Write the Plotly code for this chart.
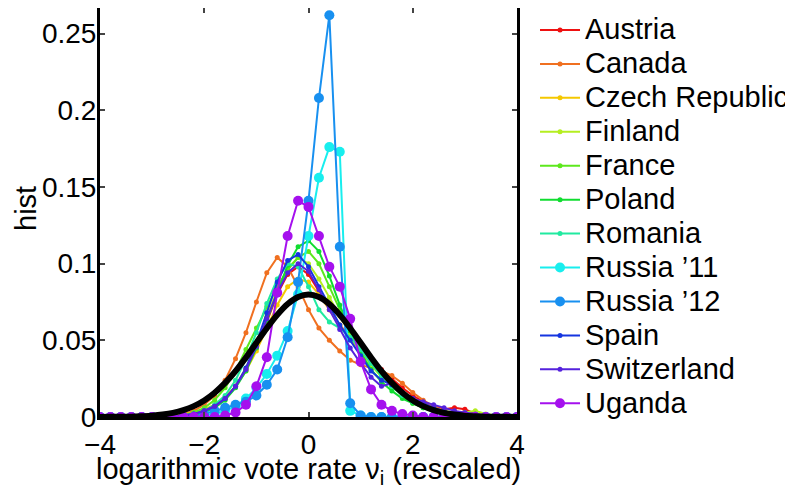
import plotly.graph_objects as go

bins = [round(-4 + 0.2 * i, 1) for i in range(41)]

countries = ["Austria", "Canada", "Czech Republic", "Finland", "France", "Poland",
             "Romania", "Russia \u201911", "Russia \u201912", "Spain", "Switzerland", "Uganda"]

austria = [0,0,0,0,0,0,0,0,0.001,0.002,
           0.004,0.007,0.012,0.020,0.031,0.045,0.062,0.080,0.093,0.098,
           0.093,0.082,0.070,0.060,0.052,0.045,0.038,0.031,0.025,0.019,
           0.014,0.010,0.007,0.005,0.006,0.005,0.002,0.001,0,0,0]
canada = [0,0,0,0,0,0,0,0.001,0.002,0.004,
          0.008,0.014,0.024,0.038,0.055,0.075,0.094,0.104,0.098,0.085,
          0.070,0.058,0.050,0.043,0.037,0.034,0.032,0.030,0.027,0.022,
          0.016,0.011,0.007,0.004,0.002,0.001,0,0,0,0,0]
czech = [0,0,0,0,0,0,0,0.001,0.002,0.003,
         0.005,0.008,0.013,0.020,0.030,0.043,0.058,0.073,0.085,0.090,
         0.088,0.080,0.070,0.060,0.051,0.043,0.035,0.028,0.021,0.015,
         0.010,0.007,0.004,0.003,0.002,0.001,0,0,0,0,0]
finland = [0,0,0,0,0,0,0,0,0.001,0.002,
           0.004,0.007,0.012,0.020,0.032,0.047,0.065,0.083,0.097,0.104,
           0.100,0.090,0.078,0.066,0.054,0.043,0.034,0.026,0.020,0.015,
           0.011,0.008,0.006,0.004,0.003,0.003,0.004,0.002,0.001,0,0]
france = [0,0,0,0,0,0,0,0,0.001,0.003,
          0.006,0.011,0.019,0.030,0.044,0.058,0.072,0.085,0.096,0.104,
          0.108,0.100,0.085,0.070,0.057,0.045,0.035,0.027,0.020,0.014,
          0.009,0.006,0.004,0.002,0.001,0,0,0,0,0,0]
poland = [0,0,0,0,0,0,0,0,0,0.001,
          0.003,0.006,0.011,0.019,0.030,0.045,0.063,0.082,0.099,0.111,
          0.115,0.108,0.092,0.073,0.056,0.042,0.031,0.023,0.017,0.012,
          0.009,0.006,0.004,0.002,0.001,0,0,0,0,0,0]
romania = [0,0,0,0,0,0,0,0,0.001,0.002,
           0.004,0.008,0.014,0.024,0.038,0.055,0.074,0.090,0.100,0.098,
           0.085,0.070,0.062,0.058,0.052,0.044,0.035,0.027,0.020,0.014,
           0.010,0.007,0.004,0.002,0.001,0,0,0,0,0,0]
russia11 = [0,0,0,0,0,0,0,0,0,0,
            0.001,0.002,0.004,0.007,0.012,0.019,0.028,0.040,0.056,0.080,
            0.118,0.156,0.176,0.173,0.004,0.001,0,0,0,0,
            0,0,0,0,0,0,0,0,0,0,0]
russia12 = [0,0,0,0,0,0,0,0,0,0,
            0.002,0.004,0.006,0.008,0.010,0.014,0.021,0.031,0.052,0.088,
            0.141,0.208,0.262,0.111,0.009,0.001,0,0,0,0,
            0,0,0,0,0,0,0,0,0,0,0]
spain = [0,0,0,0,0,0,0,0,0.001,0.002,
         0.004,0.007,0.012,0.020,0.032,0.048,0.068,0.088,0.102,0.106,
         0.098,0.085,0.072,0.060,0.050,0.040,0.030,0.024,0.021,0.016,
         0.012,0.009,0.006,0.004,0.002,0.002,0.001,0,0,0,0]
switzerland = [0,0,0,0,0,0,0,0,0.001,0.002,
               0.004,0.007,0.012,0.020,0.031,0.046,0.064,0.081,0.094,0.100,
               0.095,0.083,0.070,0.057,0.045,0.035,0.026,0.020,0.022,0.016,
               0.012,0.010,0.008,0.006,0.004,0.003,0.002,0.001,0.001,0,0]
uganda = [0,0,0,0,0,0,0,0,0,0,
          0,0,0.001,0.003,0.008,0.020,0.039,0.081,0.118,0.141,
          0.137,0.118,0.098,0.085,0.064,0.036,0.018,0.008,0.004,0.002,
          0.001,0,0,0,0,0,0,0,0,0,0]
gaussian = [0.0,0.0001,0.0001,0.0002,0.0005,0.0009,0.0016,0.0027,0.0045,0.0071,
            0.0108,0.0158,0.0222,0.0299,0.0388,0.0484,0.0579,0.0666,0.0737,0.0782,
            0.0798,0.0782,0.0737,0.0666,0.0579,0.0484,0.0388,0.0299,0.0222,0.0158,
            0.0108,0.0071,0.0045,0.0027,0.0016,0.0009,0.0005,0.0002,0.0001,0.0001,0.0]

series = [austria, canada, czech, finland, france, poland, romania,
          russia11, russia12, spain, switzerland, uganda]
colors = ["#ee1111", "#f07020", "#f5c800", "#b5ee20", "#5de81c", "#10dd30",
          "#20eaa0", "#18eeee", "#1890f0", "#1535e0", "#5522dd", "#a510ee"]
big = [False, False, False, False, False, False, False, True, True, False, False, True]

x_ticks = [-4, -2, 0, 2, 4]
y_ticks = [0, 0.05, 0.1, 0.15, 0.2, 0.25]
y_tick_labels = ["0", "0.05", "0.1", "0.15", "0.2", "0.25"]
x_title = "logarithmic vote rate \u03bd<sub>i</sub> (rescaled)"
y_title = "hist"

TEXT_SIZE = 29
TICK_SIZE = 28

fig = go.Figure()
for name, vals, col, b in zip(countries, series, colors, big):
    fig.add_trace(go.Scatter(
        x=bins, y=vals,
        name='<span style="font-size:%dpx">%s</span>' % (TEXT_SIZE, name),
        mode="lines+markers",
        line=dict(color=col, width=2),
        marker=dict(color=col, size=10 if b else 5),
    ))
fig.add_trace(go.Scatter(x=bins, y=gaussian, mode="lines", showlegend=False,
                         line=dict(color="black", width=6, shape="spline")))

font = "Liberation Sans, Arial, Helvetica, sans-serif"
fig.update_layout(
    width=785, height=489,
    margin=dict(l=92, r=276, t=0, b=80, autoexpand=False),
    paper_bgcolor="white", plot_bgcolor="white",
    font=dict(family=font, size=TEXT_SIZE, color="black"),
    showlegend=True,
    legend=dict(x=1.0432, y=1.0, xanchor="left", yanchor="top",
                yref="container", font=dict(size=23.8), itemwidth=40,
                maxheight=700,
                bgcolor="rgba(0,0,0,0)", borderwidth=0),
    xaxis=dict(range=[-4, 4], tickvals=x_ticks, ticks="inside", ticklen=5,
               tickwidth=2, showline=True, linewidth=3, linecolor="black",
               mirror="ticks", showgrid=False, zeroline=False,
               tickfont=dict(size=TICK_SIZE)),
    yaxis=dict(range=[0, 0.2667], tickvals=y_ticks, ticktext=y_tick_labels,
               ticks="inside", ticklen=5, tickwidth=2, showline=True,
               linewidth=3, linecolor="black", mirror="ticks", showgrid=False,
               zeroline=False, tickfont=dict(size=TICK_SIZE), ticklabelstandoff=-5),
    annotations=[
        dict(text=x_title, xref="paper", yref="paper", x=0.5, y=-0.0831,
             xanchor="center", yanchor="top", showarrow=False,
             font=dict(size=TEXT_SIZE)),
        dict(text=y_title, xref="paper", yref="paper", x=-0.2206, y=0.5086,
             xanchor="left", yanchor="middle", textangle=-90, showarrow=False,
             font=dict(size=TEXT_SIZE)),
    ],
)

fig.write_html("out.html")
